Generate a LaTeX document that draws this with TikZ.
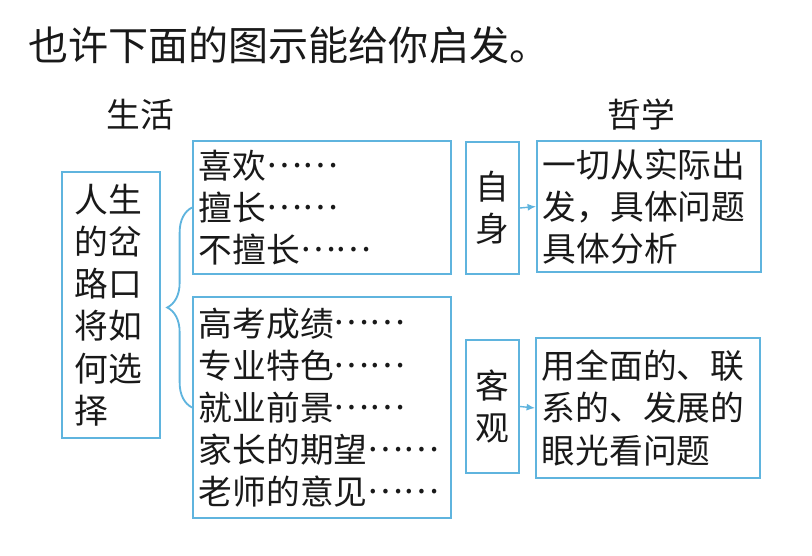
\documentclass[tikz,border=0pt]{standalone}
\usepackage{fontspec}
\newfontfamily\cjk{Noto Sans CJK SC}
\usepackage{tikz}
\usetikzlibrary{decorations.pathreplacing,arrows.meta,positioning,calc}
\definecolor{boxblue}{RGB}{95,180,222}
\definecolor{ink}{RGB}{25,25,25}
\newcommand{\etc}{\raisebox{0.33em}{……}}
\tikzset{
  frame/.style={
    draw = boxblue,
    line width = 1.3pt,
    shape = rectangle,
    text = ink,
    align = left,
    inner xsep = 0.15cm,
    inner ysep = 0pt,
    font = \cjk\fontsize{24}{30}\selectfont
  },
  lbl/.style={
    text = ink,
    inner sep = 0pt,
    font = \cjk\fontsize{24}{30}\selectfont
  },
  tip/.style={
    draw = boxblue,
    line width = 1pt,
    -{Latex[length=6pt,width=5pt]}
  }
}
\begin{document}
\begin{tikzpicture}[x=0.025cm,y=-0.025cm]
    \useasboundingbox (0,0) rectangle (812,555);
    % heading
    \node[lbl, anchor=west, font=\cjk\fontsize{28.5}{30}\selectfont] (title) at (28,45) {也许下面的图示能给你启发。};
    \node[lbl] (life) at (140,115) {生活};
    \node[lbl] (philo) at (641,115) {哲学};
    % left column
    \node[frame, minimum width=2.45cm, minimum height=6.65cm, text width=1.8cm] (choice) at (111,305)
      {人生\\的岔\\路口\\将如\\何选\\择};
    % middle column
    \node[frame, minimum width=6.45cm, minimum height=3.325cm, text width=6.15cm] (self) at (322,207.5)
      {喜欢\etc\\擅长\etc\\不擅长\etc};
    \node[frame, minimum width=6.45cm, minimum height=5.525cm, text width=6.15cm] (world) at (322,407.5)
      {高考成绩\etc\\专业特色\etc\\就业前景\etc\\家长的期望\etc\\老师的意见\etc};
    % right column
    \node[frame, minimum width=1.325cm, minimum height=3.3cm, align=center] (zishen) at (492.5,208) {自\\身};
    \node[frame, minimum width=1.325cm, minimum height=3.325cm, align=center] (keguan) at (492.5,406.5) {客\\观};
    \node[frame, minimum width=5.6cm, minimum height=3.275cm, text width=5.3cm] (fact) at (649,206.5)
      {一切从实际出\\发，具体问题\\具体分析};
    \node[frame, minimum width=5.6cm, minimum height=3.5cm, text width=5.3cm] (whole) at (648,408)
      {用全面的、联\\系的、发展的\\眼光看问题};
    % brace and arrows
    \draw[boxblue, line width=1.3pt, decorate, decoration={brace, amplitude=0.62cm}]
      (world.west) -- (self.west);
    \draw[tip] (zishen.east) -- (fact.west);
    \draw[tip] (keguan.east) -- (whole.west);
\end{tikzpicture}
\end{document}
